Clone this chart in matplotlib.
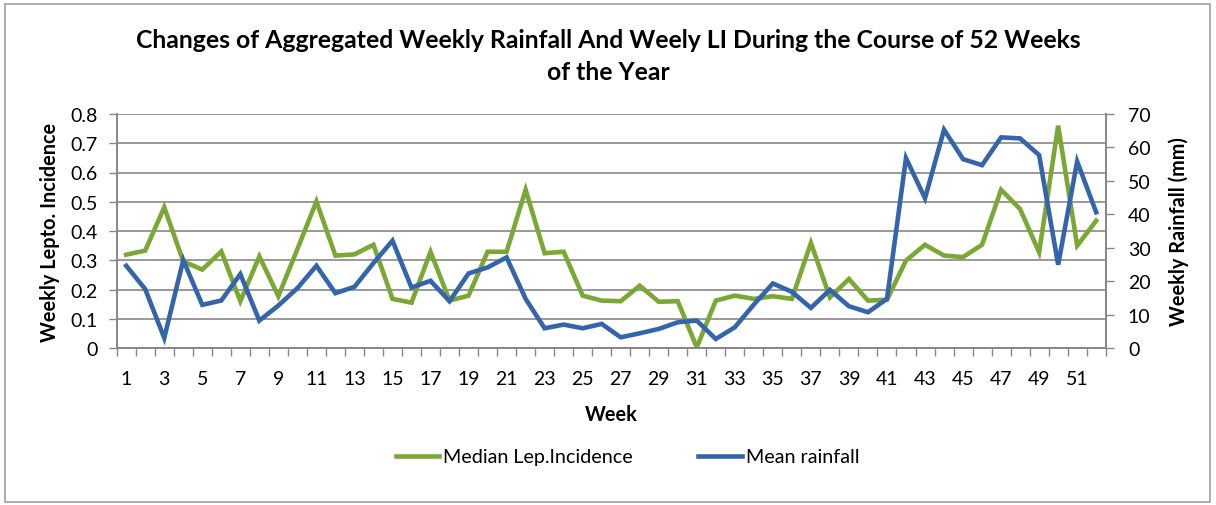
import matplotlib
matplotlib.use("Agg")
import matplotlib.pyplot as plt
from matplotlib.patches import Rectangle
import numpy as np

weeks = list(range(1, 53))
median_lep = [0.319, 0.333, 0.481, 0.296, 0.268, 0.330, 0.160, 0.313, 0.177, 0.338,
              0.501, 0.316, 0.320, 0.353, 0.168, 0.155, 0.329, 0.162, 0.179, 0.329,
              0.329, 0.541, 0.324, 0.329, 0.179, 0.162, 0.160, 0.213, 0.158, 0.160,
              0.002, 0.162, 0.179, 0.168, 0.177, 0.168, 0.359, 0.173, 0.236, 0.162,
              0.165, 0.299, 0.353, 0.316, 0.311, 0.353, 0.541, 0.475, 0.327, 0.760,
              0.350, 0.435]
mean_rain = [24.6, 17.6, 3.0, 26.3, 12.9, 14.2, 22.1, 8.2, 12.7, 17.9,
             24.6, 16.4, 18.3, 25.4, 32.1, 18.1, 20.1, 14.0, 22.3, 24.1,
             27.1, 14.7, 5.9, 7.0, 5.9, 7.2, 3.2, 4.4, 5.7, 7.7,
             8.2, 2.7, 6.2, 13.0, 19.3, 16.8, 12.0, 17.4, 12.5, 10.7,
             14.7, 56.8, 44.8, 65.3, 56.5, 54.7, 63.0, 62.7, 57.7, 24.9,
             55.8, 40.6]
left_ticks = [0, 0.1, 0.2, 0.3, 0.4, 0.5, 0.6, 0.7, 0.8]
left_ticklabels = ["0", "0.1", "0.2", "0.3", "0.4", "0.5", "0.6", "0.7", "0.8"]
right_ticks = [0, 10, 20, 30, 40, 50, 60, 70]

plt.rcParams['font.family'] = ['Lato', 'DejaVu Sans']

GREEN = '#7BA735'
BLUE = '#3465AC'
GRID = '#878787'

fig = plt.figure(figsize=(12.16, 5.06), dpi=100)
fig.patches.append(Rectangle((5/1216, 3/506), 1205/1216, 498/506, transform=fig.transFigure,
                             fill=False, edgecolor='#A0A0A0', linewidth=1.2))
ax1 = fig.add_axes([116.7/1216, 1 - 349/506, (1105.7 - 116.7)/1216, (349 - 115)/506])
ax2 = ax1.twinx()

ax1.plot(weeks, median_lep, color=GREEN, linewidth=3.3, solid_joinstyle='miter', label='Median Lep.Incidence')
ax2.plot(weeks, mean_rain, color=BLUE, linewidth=3.3, solid_joinstyle='miter', label='Mean rainfall')

ax1.set_xlim(0.5, 52.5)
ax1.set_ylim(0, 0.8)
ax2.set_ylim(0, 70)
ax1.set_yticks(left_ticks)
ax1.set_yticklabels(left_ticklabels)
ax2.set_yticks(right_ticks)

ax1.set_xticks(weeks[::2])
ax1.set_xticklabels([str(w) for w in weeks[::2]])
ax1.set_xticks(np.arange(0.5, 53, 1), minor=True)
ax1.tick_params(axis='x', which='major', length=0, pad=16, labelsize=14)
ax1.tick_params(axis='x', which='minor', length=6, width=1, color=GRID)
ax1.tick_params(axis='y', length=6, width=1, color=GRID, pad=8, labelsize=14)
ax2.tick_params(axis='y', length=6, width=1, color=GRID, pad=10, labelsize=14)

ax1.yaxis.grid(True, color=GRID, linewidth=1.2)
ax1.set_axisbelow(True)
for sp in ['top']:
    ax1.spines[sp].set_visible(False)
    ax2.spines[sp].set_visible(False)
for ax in (ax1, ax2):
    for sp in ['left', 'right', 'bottom']:
        ax.spines[sp].set_color(GRID)
        ax.spines[sp].set_linewidth(1.2)

ax1.set_ylabel('Weekly Lepto. Incidence', fontsize=14.3, fontweight='bold', labelpad=7)
ax2.set_ylabel('Weekly Rainfall (mm)', fontsize=14.3, fontweight='bold', labelpad=13)
ax1.set_xlabel('Week', fontsize=14.3, fontweight='bold', labelpad=12)

fig.text(0.5, 1 - 40/506, 'Changes of Aggregated Weekly Rainfall And Weely LI During the Course of 52 Weeks',
         ha='center', va='center', fontsize=17.8, fontweight='bold')
fig.text(0.5, 1 - 73/506, 'of the Year', ha='center', va='center', fontsize=17.8, fontweight='bold')

h1, l1 = ax1.get_legend_handles_labels()
h2, l2 = ax2.get_legend_handles_labels()
fig.legend(h1 + h2, l1 + l2, loc='center', bbox_to_anchor=(627.5/1216, 1 - 458/506), ncol=2,
           frameon=False, fontsize=14.2, handlelength=2.2, handletextpad=0.2, columnspacing=3.3)

fig.savefig('out.png', dpi=100)
